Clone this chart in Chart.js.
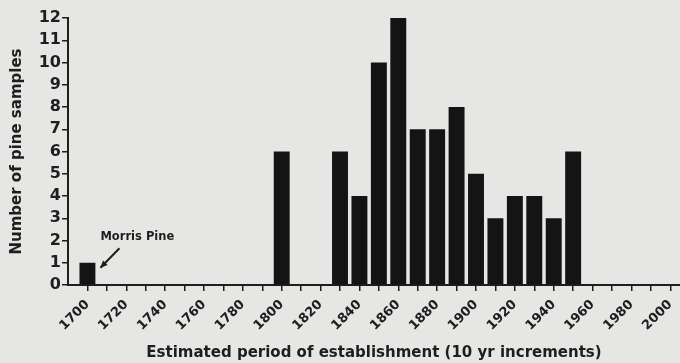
<!DOCTYPE html>
<html>
<head>
<meta charset="utf-8">
<script src="https://cdn.jsdelivr.net/npm/chart.js@4/dist/chart.umd.min.js"></script>
<style>
  html, body { margin: 0; padding: 0; background: #e6e6e4; }
  #wrap { width: 680px; height: 363px; position: relative; }
</style>
</head>
<body>
<div id="wrap"><canvas id="c"></canvas></div>
<script>
// Decades in which sampled pines became established, and how many samples each
const decades = [1700, 1800, 1830, 1840, 1850, 1860, 1870, 1880, 1890, 1900, 1910, 1920, 1930, 1940, 1950];
const counts  = [1, 6, 6, 4, 10, 12, 7, 7, 8, 5, 3, 4, 4, 3, 6];

// Axis range and labelling
const xMin = 1690, xMax = 2005, xStep = 10, xLabelEvery = 20;
const yMin = 0, yMax = 12, yStep = 1;

// Callout for the oldest tree
const calloutText = 'Morris Pine';
const calloutDecade = 1700;

const ink = '#1e1e1e';
const fontFamily = '"DejaVu Sans", "Liberation Sans", Arial, sans-serif';

const calloutPlugin = {
  id: 'callout',
  afterDatasetsDraw(chart) {
    const { ctx, scales: { x, y } } = chart;
    const i = decades.indexOf(calloutDecade);
    const px = x.getPixelForValue(calloutDecade);
    const py = y.getPixelForValue(counts[i]);
    const tip = { x: px + 13, y: py + 5 };
    const tail = { x: px + 32, y: py - 14.5 };
    ctx.save();
    ctx.strokeStyle = ink;
    ctx.fillStyle = ink;
    ctx.lineWidth = 2;
    ctx.beginPath();
    ctx.moveTo(tail.x, tail.y);
    ctx.lineTo(tip.x, tip.y);
    ctx.stroke();
    // arrow head
    const ang = Math.atan2(tip.y - tail.y, tip.x - tail.x);
    const L = 7, W = 3.2;
    ctx.beginPath();
    ctx.moveTo(tip.x, tip.y);
    ctx.lineTo(tip.x - L * Math.cos(ang) + W * Math.sin(ang), tip.y - L * Math.sin(ang) - W * Math.cos(ang));
    ctx.lineTo(tip.x - L * Math.cos(ang) - W * Math.sin(ang), tip.y - L * Math.sin(ang) + W * Math.cos(ang));
    ctx.closePath();
    ctx.fill();
    ctx.font = 'bold 11.5px ' + fontFamily;
    ctx.textAlign = 'left';
    ctx.textBaseline = 'middle';
    ctx.fillText(calloutText, px + 13, py - 25.5);
    ctx.restore();
  }
};

new Chart(document.getElementById('c'), {
  type: 'bar',
  data: {
    datasets: [{
      data: decades.map((d, i) => ({ x: d, y: counts[i] })),
      backgroundColor: '#141414',
      borderWidth: 0,
      barPercentage: 0.82,
      categoryPercentage: 1.0
    }]
  },
  options: {
    responsive: true,
    maintainAspectRatio: false,
    animation: false,
    layout: { padding: { top: 18, right: 0, left: 0, bottom: 0 } },
    plugins: { legend: { display: false }, tooltip: { enabled: false } },
    scales: {
      x: {
        type: 'linear',
        offset: false,
        min: xMin,
        max: xMax,
        afterBuildTicks: s => {
          const t = [];
          for (let v = xMin + xStep; v <= xMax; v += xStep) t.push({ value: v });
          s.ticks = t;
        },
        afterFit: s => { s.height = 78; s.paddingLeft = 0; s.paddingRight = 0; },
        ticks: {
          minRotation: 45,
          maxRotation: 45,
          autoSkip: false,
          padding: 6,
          color: ink,
          font: { family: fontFamily, weight: 'bold', size: 13 },
          callback: v => (v % xLabelEvery === 0 ? String(v) : '')
        },
        grid: {
          offset: false,
          drawOnChartArea: false,
          drawTicks: true,
          tickLength: 6,
          color: ink,
          lineWidth: 1.5
        },
        border: { display: true, color: ink, width: 2 },
        title: {
          display: true,
          text: 'Estimated period of establishment (10 yr increments)',
          color: ink,
          font: { family: fontFamily, weight: 'bold', size: 15 },
          padding: { top: 0, bottom: 1 }
        }
      },
      y: {
        min: yMin,
        max: yMax,
        afterFit: s => { s.width = 68; s.paddingTop = 0; s.paddingBottom = 0; },
        ticks: {
          stepSize: yStep,
          padding: 1,
          color: ink,
          font: { family: fontFamily, weight: 'bold', size: 16 }
        },
        grid: {
          drawOnChartArea: false,
          drawTicks: true,
          tickLength: 6,
          color: ink,
          lineWidth: 1.5
        },
        border: { display: true, color: ink, width: 2 },
        title: {
          display: true,
          text: 'Number of pine samples',
          color: ink,
          font: { family: fontFamily, weight: 'bold', size: 15 },
          padding: { top: 8, bottom: 0 }
        }
      }
    }
  },
  plugins: [calloutPlugin]
});
</script>
</body>
</html>
